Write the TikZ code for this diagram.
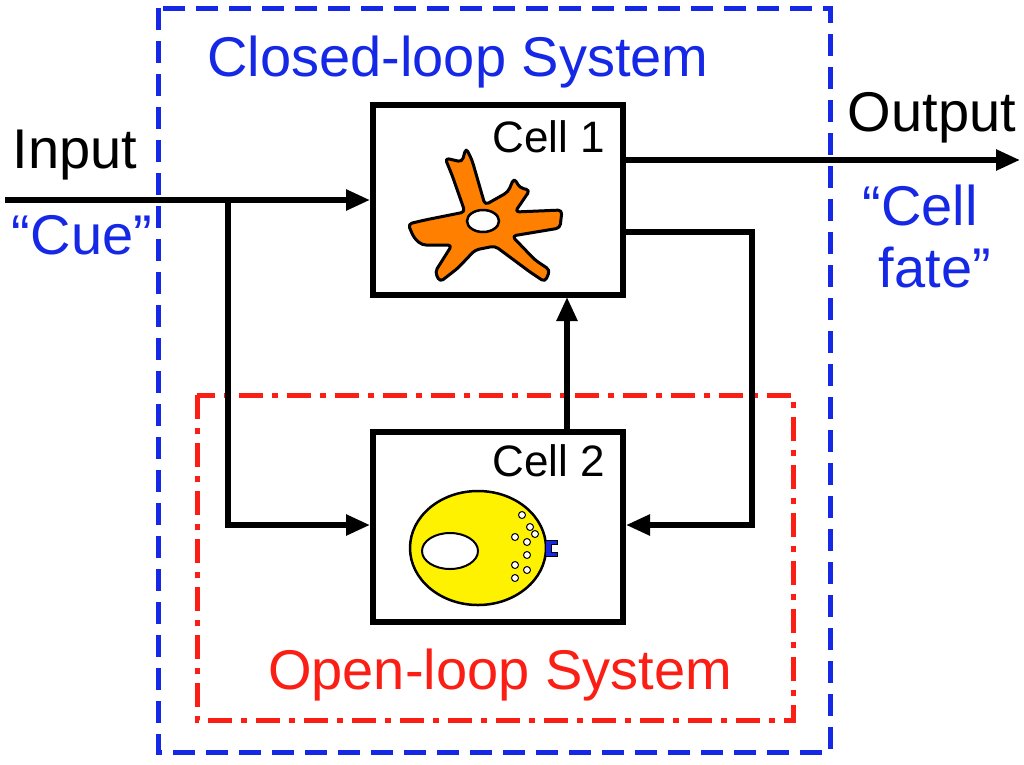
\documentclass[tikz,border=0pt]{standalone}
\usepackage{fontspec}
\setmainfont{Liberation Sans}
\usetikzlibrary{arrows.meta}
\begin{document}
\begin{tikzpicture}[x=1pt,y=-1pt,
  wire/.style={line width=5.5pt,-{Triangle[length=24pt,width=20pt]}},
  box/.style={draw,line width=6pt,fill=white,minimum width=250pt,minimum height=190pt,inner sep=0pt},
  big/.style={font=\fontsize{56}{60}\selectfont,inner sep=0pt},
  lab/.style={font=\fontsize{44}{48}\selectfont,inner sep=0pt}]
\useasboundingbox (0,0) rectangle (1024,764);
\definecolor{cblue}{RGB}{20,40,230}
\definecolor{cred}{RGB}{250,30,20}
\definecolor{corange}{RGB}{255,128,0}
\draw[cblue,line width=5pt,dash pattern=on 22pt off 11pt] (158,8) rectangle (830,752);
\draw[cred,line width=5pt,dash pattern=on 24pt off 9pt on 6pt off 9pt] (197,395) rectangle (793,720);
\node[box] (c1) at (498,200) {};
\node[box] (c2) at (498,527) {};
\node[lab,anchor=north east] (t1) at (605,120) {Cell 1};
\node[lab,anchor=north east] (t2) at (605,444) {Cell 2};
% cell 1 star
\draw[fill=corange,line width=3pt,line join=round,rounded corners=4pt]
 (465,212) -- (452,175) -- (445,158) -- (462,162) -- (466,148) -- (472,160) -- (485,205)
 -- (508,192) -- (514,178) -- (520,188) -- (530,190) -- (515,212)
 -- (562,210) -- (560,228) -- (512,236)
 -- (535,260) -- (550,270) -- (545,282) -- (530,272) -- (495,246)
 -- (475,250) -- (458,268) -- (440,282) -- (435,272) -- (452,245)
 -- (422,245) -- (414,238) -- (408,224) -- (425,220) -- cycle;
\draw[fill=white,line width=2.5pt] (483,221) ellipse (16 and 11);
% cell 2
\draw[fill=yellow,line width=2.5pt] (478,548) ellipse (68 and 57);
\draw[fill=white,line width=2pt] (450,551) ellipse (28 and 18);
\foreach \p in {(522,515),(530,527),(535,534),(515,537),(527,542),(527,555),(515,565),(527,570),(515,578)}
  \draw[fill=white,line width=1pt] \p circle (3.5);
\draw[fill=cblue,line width=1pt] (545,540) -- (557,540) -- (557,544) -- (551,544) -- (551,552) -- (557,552) -- (557,556) -- (545,556) -- cycle;
% wires
\coordinate (in) at (5,200);
\coordinate (b1) at (228,200);
\coordinate (b2) at (228,525);
\coordinate (out) at (1020,160);
\coordinate (f1) at (752,232);
\coordinate (f2) at (752,525);
\draw[wire] (in) -- (c1.west |- in);
\draw[wire] (b1) -- (b2) -- (c2.west |- b2);
\draw[wire] (c1.east |- out) -- (out);
\draw[wire] (c1.east |- f1) -- (f1) -- (f2) -- (c2.east |- f2);
\draw[wire] (567,430) -- (567,297);
% labels
\node[big,text=cblue] (cl) at (458,62) {Closed-loop System};
\node[big,text=cred] (ol) at (500,675) {Open-loop System};
\node[big] (inp) at (75,155) {Input};
\node[big,text=cblue] (cue) at (82,235) {“Cue”};
\node[big] (outp) at (932,118) {Output};
\node[big,text=cblue] (cf1) at (920,205) {“Cell};
\node[big,text=cblue] (cf2) at (935,268) {fate”};
\end{tikzpicture}
\end{document}
